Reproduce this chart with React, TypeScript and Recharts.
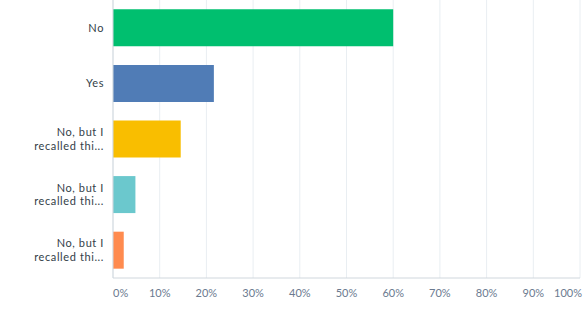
import React from "react";
import { BarChart, Bar, XAxis, YAxis, CartesianGrid, Cell } from "recharts";

const categories = ["No", "Yes", "No, but I recalled thi... (a)", "No, but I recalled thi... (b)", "No, but I recalled thi... (c)"];
const labelLines = [["No"], ["Yes"], ["No, but I", "recalled thi..."], ["No, but I", "recalled thi..."], ["No, but I", "recalled thi..."]];
const values = [60, 21.6, 14.5, 4.8, 2.3];
const barColors = ["#00BF6F", "#507CB6", "#F9BE00", "#6BC8CD", "#FF8B4F"];
const xTicks = [0, 10, 20, 30, 40, 50, 60, 70, 80, 90, 100];

const data = categories.map((name, i) => ({ name, value: values[i] }));

const FONT = "Lato, 'Open Sans', sans-serif";

function YTick(props: any) {
  const { x, y, payload } = props;
  const lines = labelLines[payload.index] || [String(payload.value)];
  const lh = 13.4;
  const start = -((lines.length - 1) * lh) / 2;
  return (
    <g>
      {lines.map((l: string, i: number) => (
        <text
          key={i}
          x={x}
          y={y + start + i * lh}
          dy="0.36em"
          textAnchor="end"
          fontSize={11}
          fontFamily={FONT}
          letterSpacing={0.6}
          fill="#333E48"
        >
          {l}
        </text>
      ))}
    </g>
  );
}

function XTick(props: any) {
  const { x, y, payload } = props;
  const v = payload.value;
  const anchor = v === 0 ? "start" : v === 100 ? "end" : "middle";
  const dx = v === 100 ? 2 : 0;
  return (
    <text
      x={x + dx}
      y={y}
      dy="0.71em"
      textAnchor={anchor}
      fontSize={11}
      fontFamily={FONT}
      fill="#6B7A8F"
    >
      {v}%
    </text>
  );
}

export default function App() {
  return (
    <div style={{ position: "absolute", left: 0, top: 0, width: 583, height: 325, background: "#fff" }}>
      <BarChart
        width={583}
        height={325}
        data={data}
        layout="vertical"
        margin={{ top: 0, right: 3, bottom: 17, left: 0 }}
        barCategoryGap="16.7%"
      >
        <CartesianGrid horizontal={false} stroke="#E9EEF2" />
        <XAxis
          type="number"
          domain={[0, 100]}
          ticks={xTicks}
          interval={0}
          height={30}
          tickLine={false}
          tickSize={0}
          tickMargin={11}
          axisLine={{ stroke: "#D0D7DD" }}
          tick={<XTick />}
        />
        <YAxis
          type="category"
          dataKey="name"
          width={113}
          tickLine={false}
          tickSize={0}
          tickMargin={9}
          interval={0}
          axisLine={{ stroke: "#D0D7DD" }}
          tick={<YTick />}
        />
        <Bar dataKey="value" isAnimationActive={false}>
          {data.map((d, i) => (
            <Cell key={d.name} fill={barColors[i]} />
          ))}
        </Bar>
      </BarChart>
    </div>
  );
}
